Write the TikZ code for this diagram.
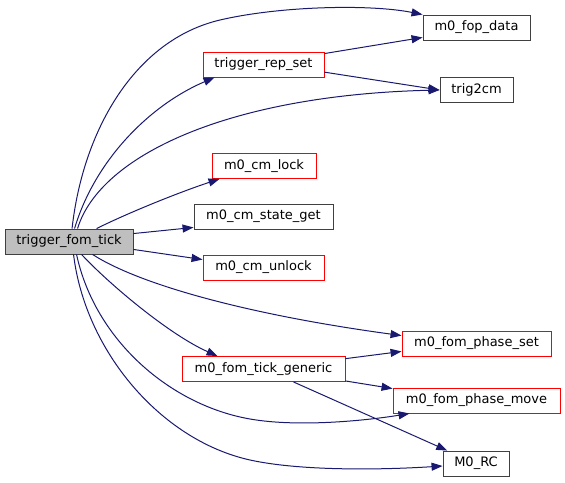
\documentclass[tikz,border=0pt]{standalone}
\usepackage{fontspec}
\setmainfont{DejaVu Sans}
\usetikzlibrary{arrows.meta}
\definecolor{edgeblue}{HTML}{191970}
\definecolor{rootfill}{HTML}{BFBFBF}
\definecolor{darkborder}{HTML}{404040}
\begin{document}
\begin{tikzpicture}[x=1pt,y=-1pt,
  box/.style={draw=darkborder,line width=0.9pt,minimum height=25pt,inner sep=0pt,
    font=\fontsize{13}{15}\selectfont,text=black},
  redbox/.style={box,draw=red},
  rootbox/.style={box,fill=rootfill},
  call/.style={draw=edgeblue,line width=1pt,-{Triangle[length=11pt,width=8pt]}}]
\useasboundingbox (0,0) rectangle (565,482);

\node[rootbox,minimum width=128pt] (root) at (69,241.5) {trigger\_fom\_tick};
\node[redbox,minimum width=121pt] (rep) at (263.5,64.5) {trigger\_rep\_set};
\node[box,minimum width=107pt] (fop) at (476.5,27.5) {m0\_fop\_data};
\node[box,minimum width=73pt] (trig) at (476.5,90) {trig2cm};
\node[redbox,minimum width=104pt] (lock) at (264,166) {m0\_cm\_lock};
\node[box,minimum width=139pt] (state) at (263.5,216.5) {m0\_cm\_state\_get};
\node[redbox,minimum width=121pt] (unlock) at (263.5,267.5) {m0\_cm\_unlock};
\node[redbox,minimum width=149pt] (pset) at (476.5,343.5) {m0\_fom\_phase\_set};
\node[redbox,minimum width=163pt] (gen) at (263.5,369) {m0\_fom\_tick\_generic};
\node[redbox,minimum width=167pt] (pmove) at (476.5,400.5) {m0\_fom\_phase\_move};
\node[box,minimum width=66pt] (rc) at (476,463.5) {M0\_RC};

% from trigger_fom_tick
\draw[call] ([xshift=67.5pt]root.north west) .. controls (83,130) and (135,40) .. (220,20)
  .. controls (280,6) and (370,4) .. (fop.north west);
\draw[call] ([xshift=70pt]root.north west) .. controls (95,160) and (150,105) .. ([xshift=12pt]rep.south west);
\draw[call] ([xshift=73pt]root.north west) .. controls (100,155) and (230,95) .. (trig.west);
\draw[call] ([xshift=92pt]root.north west) .. controls (130,212) and (180,192) .. ([xshift=8pt]lock.south west);
\draw[call] ([yshift=-5pt]root.north east) -- ([yshift=2pt]state.south west);
\draw[call] ([yshift=5pt]root.south east) -- ([yshift=-5pt]unlock.north west);
\draw[call] ([xshift=88pt]root.south west) .. controls (140,285) and (250,315) .. ([yshift=-5pt]pset.north west);
\draw[call] ([xshift=77pt]root.south west) .. controls (110,285) and (170,335) .. ([xshift=36pt]gen.north west);
\draw[call] ([xshift=72pt]root.south west) .. controls (95,340) and (170,405) .. (250,419)
  .. controls (300,427.75) and (370,420) .. ([xshift=17pt]pmove.south west);
\draw[call] ([xshift=69pt]root.south west) .. controls (85,350) and (160,440) .. (250,460)
  .. controls (300,471) and (380,470) .. ([yshift=-2.5pt]rc.west);

% from trigger_rep_set
\draw[call] ([yshift=-2pt]rep.north east) -- ([yshift=3pt]fop.south west);
\draw[call] ([yshift=5.3pt]rep.south east) -- (trig.west);

% from m0_fom_tick_generic
\draw[call] ([yshift=-2.6pt]gen.north east) -- ([yshift=5pt]pset.south west);
\draw[call] ([yshift=1pt]gen.south east) -- ([yshift=-1pt]pmove.north west);
\draw[call] ([xshift=30pt]gen.south) -- ([xshift=4.7pt]rc.north west);
\end{tikzpicture}
\end{document}
